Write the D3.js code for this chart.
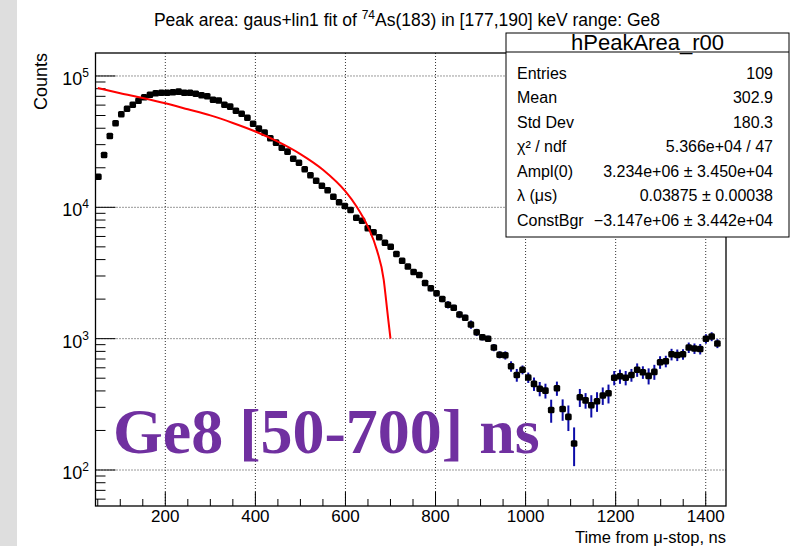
<!DOCTYPE html>
<html>
<head>
<meta charset="utf-8">
<script src="https://cdn.jsdelivr.net/npm/d3@7"></script>
<style>
	body { margin: 0; background: #fff; }
	svg { display: block; font-family: "Liberation Sans", Arial, sans-serif; }
</style>
</head>
<body>
<svg id="chart" width="795" height="546"></svg>
<script>
// Histogram binning (ns)
const binLow = 45, binHigh = 1445, nBins = 110;

// Peak area per time bin
const counts = [
	17110, 25030, 34920, 43630, 51100, 56360, 60460, 64850, 68830, 72040,
	73830, 74600, 74600, 75140, 75940, 74600, 74600, 73310, 71290, 70050,
	65990, 65070, 60460, 58390, 54420, 51630, 48130, 43330, 39700, 37010,
	33540, 31060, 28440, 26530, 23460, 21870, 19480, 17530, 15950, 14610,
	13480, 12050, 10920, 10230, 9544, 8337, 7911, 6923, 6453, 5912,
	5378, 5015, 4412, 3923, 3544, 3218, 3052, 2653, 2418, 2219,
	2004, 1814, 1718, 1528, 1444, 1282, 1118, 1024, 999, 856,
	755, 747, 616, 529, 580, 506, 453, 416, 402, 286,
	419, 291, 254, 159, 358, 339, 311, 334, 369, 384,
	504, 517, 504, 529, 580, 555, 521, 559, 662, 673,
	760, 751, 761, 856, 842, 834, 999, 1038, 919
];
const errors = [
	250, 300, 350, 400, 450, 470, 490, 510, 520, 530,
	540, 540, 540, 540, 540, 540, 540, 530, 520, 520,
	500, 500, 480, 470, 450, 440, 420, 400, 380, 370,
	350, 340, 320, 310, 290, 280, 260, 250, 240, 230,
	220, 210, 200, 195, 190, 180, 175, 165, 160, 150,
	145, 140, 130, 125, 120, 115, 150, 143, 130, 120,
	108, 115, 93, 97, 78, 93, 71, 55, 54, 54,
	48, 54, 56, 59, 45, 46, 53, 52, 52, 57,
	52, 54, 56, 52, 56, 46, 60, 57, 56, 63,
	63, 64, 63, 59, 68, 61, 73, 73, 73, 68,
	77, 76, 70, 78, 77, 76, 82, 81, 72
];

// Fit curve (red), sampled off the plot
const fitTime = [50, 100, 150, 200, 250, 300, 350, 400, 450, 500, 550, 600, 625, 650, 670, 685, 690, 695, 700];
const fitValue = [81000, 74000, 68000, 62000, 55800, 50100, 43900, 37800, 31600, 25400, 19300, 13200, 10100, 7100, 4700, 2800, 2000, 1400, 1000];

// Axis ticks
const xMajorTicks = [200, 400, 600, 800, 1000, 1200, 1400];
const yDecades = [2, 3, 4, 5];

// Stats box
const statsTitle = "hPeakArea_r00";
const statLabels = ["Entries", "Mean", "Std Dev", "χ² / ndf", "Ampl(0)", "λ (μs)", "ConstBgr"];
const statValues = ["109", "302.9", "180.3", "5.366e+04 / 47", "3.234e+06 ± 3.450e+04", "0.03875 ± 0.00038", "−3.147e+06 ± 3.442e+04"];

// Texts
const titleParts = ["Peak area: gaus+lin1 fit of ", "74", "As(183) in [177,190] keV range: Ge8"];
const xTitle = "Time from μ-stop, ns";
const yTitle = "Counts";
const note = "Ge8 [50-700] ns";

var pk = {};
pk.frame = {left: 95.5, right: 726, top: 53, bottom: 506};

pk.draw = () => {
	let svg = d3.select("#chart");
	let f = pk.frame;

	let x = d3.scaleLinear().domain([binLow, binHigh]).range([f.left, f.right]),
		y = d3.scaleLog().domain([53.2, 149600]).range([f.bottom, f.top]);

	svg.append("rect").attr("width", 795).attr("height", 546).attr("fill", "#fff");
	svg.append("rect").attr("width", 17).attr("height", 546).attr("fill", "#dedede");

	svg.append("clipPath").attr("id", "clip")
		.append("rect")
		.attr("x", f.left).attr("y", f.top)
		.attr("width", f.right - f.left).attr("height", f.bottom - f.top);

	// Grid
	let grid = svg.append("g").attr("stroke", "#333").attr("stroke-dasharray", "1,2").attr("stroke-width", 1);
	grid.selectAll(".gx").data(xMajorTicks).enter().append("line")
		.attr("x1", d => x(d)).attr("x2", d => x(d))
		.attr("y1", f.top).attr("y2", f.bottom);
	grid.selectAll(".gy").data(yDecades).enter().append("line")
		.attr("x1", f.left).attr("x2", f.right)
		.attr("y1", d => y(Math.pow(10, d))).attr("y2", d => y(Math.pow(10, d)));

	// Ticks
	let ticks = svg.append("g").attr("stroke", "#000").attr("stroke-width", 1);
	let xMinor = d3.range(50, binHigh, 50).filter(d => d % 200 != 0);
	ticks.selectAll(".xm").data(xMinor).enter().append("line")
		.attr("x1", d => x(d)).attr("x2", d => x(d))
		.attr("y1", f.bottom).attr("y2", f.bottom - 7);
	ticks.selectAll(".xM").data(xMajorTicks).enter().append("line")
		.attr("x1", d => x(d)).attr("x2", d => x(d))
		.attr("y1", f.bottom).attr("y2", f.bottom - 14);

	let yMinor = [];
	[1, 2, 3, 4, 5].forEach(k => {
		for (let m = 2; m <= 9; m++) {
			let v = m * Math.pow(10, k);
			if (v > y.domain()[0] && v < y.domain()[1]) yMinor.push(v);
		}
	});
	ticks.selectAll(".ym").data(yMinor).enter().append("line")
		.attr("x1", f.left).attr("x2", f.left + 10)
		.attr("y1", d => y(d)).attr("y2", d => y(d));
	ticks.selectAll(".yM").data(yDecades).enter().append("line")
		.attr("x1", f.left).attr("x2", f.left + 20)
		.attr("y1", d => y(Math.pow(10, d))).attr("y2", d => y(Math.pow(10, d)));

	// Frame
	svg.append("rect")
		.attr("x", f.left).attr("y", f.top)
		.attr("width", f.right - f.left).attr("height", f.bottom - f.top)
		.attr("fill", "none").attr("stroke", "#000").attr("stroke-width", 1.3);

	// Tick labels
	svg.selectAll(".xl").data(xMajorTicks).enter().append("text")
		.attr("x", d => x(d)).attr("y", 522)
		.attr("text-anchor", "middle")
		.style("font-size", "17px")
		.text(d => d);

	let yl = svg.selectAll(".yl").data(yDecades).enter().append("text")
		.attr("x", 89).attr("y", d => y(Math.pow(10, d)) + 9)
		.attr("text-anchor", "end")
		.style("font-size", "18px");
	yl.append("tspan").text("10");
	yl.append("tspan").attr("dy", -8).style("font-size", "12px").text(d => d);

	// Axis titles
	svg.append("text")
		.attr("x", f.right).attr("y", 542.5)
		.attr("text-anchor", "end")
		.style("font-size", "16.5px")
		.text(xTitle);
	svg.append("text")
		.attr("transform", "translate(47,53) rotate(-90)")
		.attr("text-anchor", "end")
		.style("font-size", "18px")
		.text(yTitle);

	// Title
	let title = svg.append("text")
		.attr("x", 407).attr("y", 26)
		.attr("text-anchor", "middle")
		.style("font-size", "17.5px");
	title.append("tspan").text(titleParts[0]);
	title.append("tspan").attr("dy", -7).style("font-size", "12px").text(titleParts[1]);
	title.append("tspan").attr("dy", 7).text(titleParts[2]);

	// Histogram points
	let binW = (binHigh - binLow) / nBins;
	let pts = counts.map((c, i) => ({t: binLow + (i + 0.5) * binW, v: c, e: errors[i]}));
	let plot = svg.append("g").attr("clip-path", "url(#clip)");

	plot.selectAll(".err").data(pts).enter().append("line")
		.attr("x1", d => x(d.t)).attr("x2", d => x(d.t))
		.attr("y1", d => y(d.v - d.e)).attr("y2", d => y(d.v + d.e))
		.attr("stroke", "#0c0ca8").attr("stroke-width", 2);
	plot.selectAll(".xerr").data(pts).enter().append("line")
		.attr("x1", d => x(d.t - binW / 2)).attr("x2", d => x(d.t + binW / 2))
		.attr("y1", d => y(d.v)).attr("y2", d => y(d.v))
		.attr("stroke", "#000").attr("stroke-width", 1);
	plot.selectAll(".pt").data(pts).enter().append("rect")
		.attr("x", d => x(d.t) - 3.3).attr("y", d => y(d.v) - 3.3)
		.attr("width", 6.6).attr("height", 6.6).attr("rx", 1.5)
		.attr("fill", "#000");

	// Fit curve
	let line = d3.line()
		.x((d, i) => x(fitTime[i]))
		.y(d => y(d))
		.curve(d3.curveMonotoneX);
	plot.append("path")
		.attr("d", line(fitValue))
		.attr("fill", "none").attr("stroke", "#ff0000").attr("stroke-width", 2);

	// Big annotation
	svg.append("text")
		.attr("x", 113).attr("y", 453)
		.style("font-family", "'Liberation Serif', 'Times New Roman', serif")
		.style("font-weight", "bold")
		.style("font-size", "64px")
		.attr("fill", "#7030a0")
		.text(note);

	// Stats box
	let box = svg.append("g");
	box.append("rect")
		.attr("x", 506).attr("y", 33).attr("width", 283).attr("height", 204)
		.attr("fill", "#fff").attr("stroke", "#000").attr("stroke-width", 1);
	box.append("line")
		.attr("x1", 506).attr("x2", 789).attr("y1", 52).attr("y2", 52)
		.attr("stroke", "#000");
	box.append("text")
		.attr("x", 647.5).attr("y", 50)
		.attr("text-anchor", "middle")
		.style("font-size", "22px")
		.text(statsTitle);
	box.selectAll(".sl").data(statLabels).enter().append("text")
		.attr("x", 517).attr("y", (d, i) => 78.5 + i * 24.5)
		.style("font-size", "16px")
		.text(d => d);
	box.selectAll(".sv").data(statValues).enter().append("text")
		.attr("x", 773).attr("y", (d, i) => 78.5 + i * 24.5)
		.attr("text-anchor", "end")
		.style("font-size", "16px")
		.text(d => d);
}

pk.draw();
</script>
</body>
</html>
